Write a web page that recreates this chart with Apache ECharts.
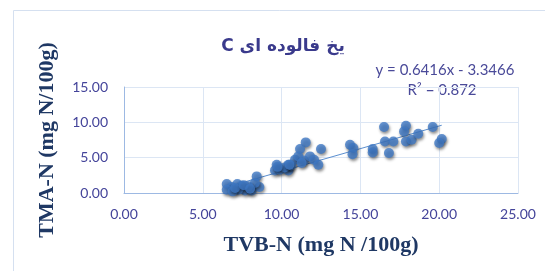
<!DOCTYPE html>
<html>
<head>
<meta charset="utf-8">
<script src="https://cdn.jsdelivr.net/npm/echarts@6/dist/echarts.min.js"></script>
<style>html,body{margin:0;padding:0;background:#fff}#c{width:545px;height:271px}</style>
</head>
<body>
<div id="c"></div>
<script>
const titleText = "یخ فالوده ای C";
const xAxisTitle = "TVB-N (mg N /100g)";
const yAxisTitle = "TMA-N (mg N/100g)";
const equationText = "y = 0.6416x - 3.3466";
const r2Text = "R² = 0.872";
const slope = 0.6416;
const intercept = -3.3466;
const xTicks = [0, 5, 10, 15, 20, 25];
const yTicks = [0, 5, 10, 15];

const tvbN = [6.52, 6.83, 7.19, 7.47, 7.68, 8.10, 7.25, 8.42, 8.59, 8.31, 6.52, 6.90, 7.89, 7.05, 7.60, 8.00,
  9.69, 9.58, 9.90, 10.43, 10.43, 10.85, 10.20, 10.60, 9.75,
  11.53, 11.17, 11.06, 12.50, 11.42, 11.80, 12.06, 12.33, 11.27, 10.50,
  14.34, 14.55, 14.50, 15.78, 15.78,
  16.50, 16.56, 17.09, 16.81, 17.89, 17.77, 17.89, 18.25, 18.67, 19.59, 20.16, 20.00];
const tmaN = [1.27, 0.85, 1.27, 1.03, 0.37, 0.37, 0.47, 2.35, 0.85, 1.41, 0.47, 0.23, 0.94, 0.70, 1.10, 0.60,
  4.00, 3.20, 3.30, 4.00, 3.20, 4.71, 3.60, 3.90, 3.70,
  7.16, 6.22, 5.18, 6.22, 4.61, 5.18, 4.71, 4.00, 4.24, 4.00,
  6.83, 6.36, 5.50, 6.22, 5.74,
  9.33, 7.30, 7.30, 5.66, 9.52, 8.72, 7.30, 7.54, 8.39, 9.33, 7.64, 7.07];

const points = tvbN.map((x, i) => [x, tmaN[i]]);
const xMin = Math.min(...tvbN), xMax = Math.max(...tvbN);
const trend = [[xMin, slope * xMin + intercept], [xMax, slope * xMax + intercept]];

const chart = echarts.init(document.getElementById('c'), null, {renderer: 'canvas'});
const labelColor = '#44449A';
chart.setOption({
  animation: false,
  backgroundColor: '#ffffff',
  grid: {left: 124, right: 27, top: 87, bottom: 78, containLabel: false},
  graphic: [
    {type: 'rect', shape: {x: 13.5, y: 10.5, width: 600, height: 400},
     style: {fill: 'none', stroke: '#D5E0F0', lineWidth: 1}, z: 0},
    {type: 'text', style: {x: 283, y: 47, text: '\u202B' + titleText + '\u202C', font: 'bold 17px "DejaVu Sans"', fill: '#3A3A8C', textAlign: 'center', textVerticalAlign: 'middle'}},
    {type: 'text', style: {x: 445, y: 70, text: equationText, font: '15px Lato', fill: '#4A4A99', textAlign: 'center', textVerticalAlign: 'middle'}},
    {type: 'text', style: {x: 442, y: 90, text: r2Text, font: '15px Lato', fill: '#4A4A99', textAlign: 'center', textVerticalAlign: 'middle'}}
  ],
  xAxis: {
    type: 'value', min: xTicks[0], max: xTicks[xTicks.length - 1], interval: 5,
    name: xAxisTitle, nameLocation: 'middle', nameGap: 41,
    nameTextStyle: {fontFamily: 'Liberation Serif', fontWeight: 'bold', fontSize: 22, color: '#1F3864'},
    axisLine: {show: true, lineStyle: {color: '#9DB9E3', width: 1}},
    axisTick: {show: false},
    axisLabel: {color: labelColor, fontFamily: 'Lato', fontSize: 14, margin: 14,
      formatter: v => v.toFixed(2)},
    splitLine: {show: true, lineStyle: {color: '#DCE6F4', width: 1}}
  },
  yAxis: {
    type: 'value', min: yTicks[0], max: yTicks[yTicks.length - 1], interval: 5,
    name: yAxisTitle, nameLocation: 'middle', nameGap: 66,
    nameTextStyle: {fontFamily: 'Liberation Serif', fontWeight: 'bold', fontSize: 22, color: '#1F3864'},
    axisLine: {show: true, lineStyle: {color: '#9DB9E3', width: 1}},
    axisTick: {show: false},
    axisLabel: {color: labelColor, fontFamily: 'Lato', fontSize: 14, margin: 16,
      formatter: v => v.toFixed(2)},
    splitLine: {show: true, lineStyle: {color: '#DCE6F4', width: 1}}
  },
  series: [
    {type: 'line', data: trend, symbol: 'none', silent: true,
     lineStyle: {color: '#5B8FD0', width: 1}, z: 1},
    {type: 'scatter', data: points, symbol: 'circle', symbolSize: 10,
     itemStyle: {color: '#3F78C4', shadowBlur: 3, shadowOffsetX: 1, shadowOffsetY: 2, shadowColor: 'rgba(0,0,0,0.55)'}, z: 2}
  ]
});
</script>
</body>
</html>
